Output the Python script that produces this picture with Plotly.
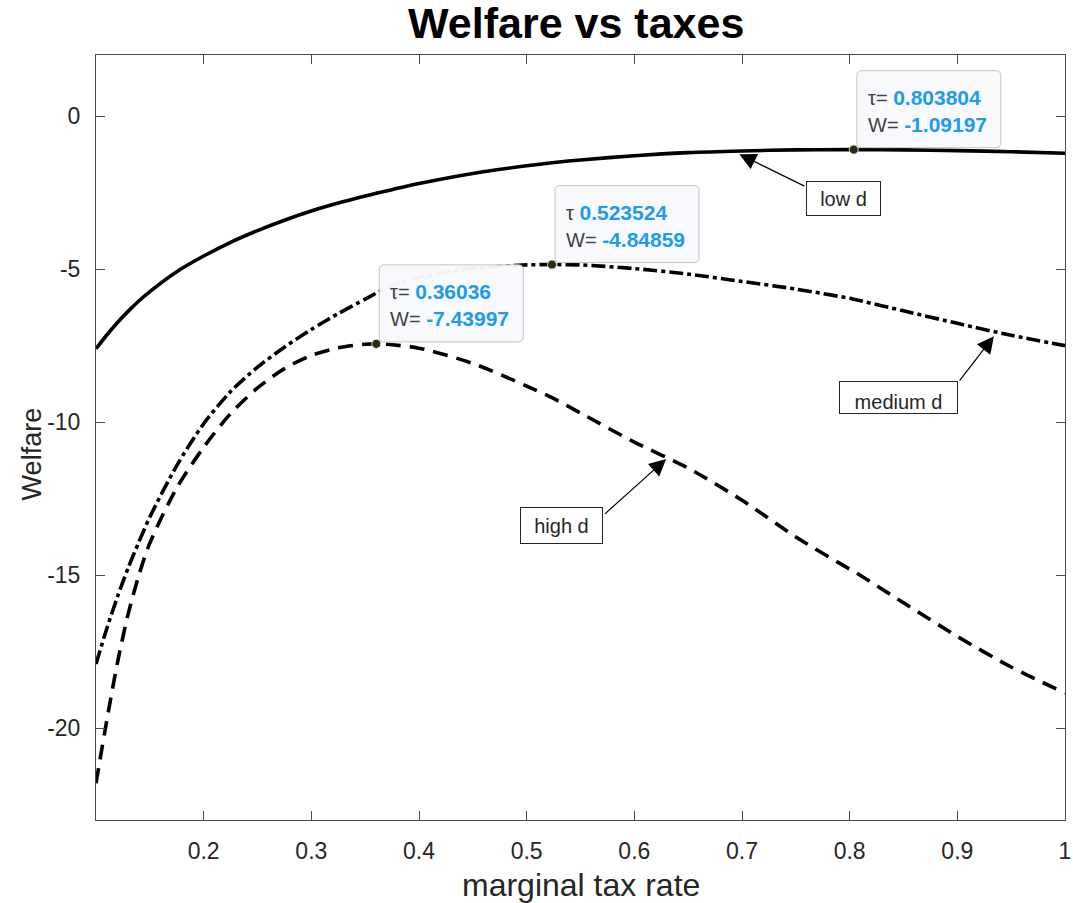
import plotly.graph_objects as go

# ---- data -----------------------------------------------------------------
tau = [0.1, 0.11, 0.12, 0.13, 0.14, 0.15, 0.175, 0.2, 0.225, 0.25, 0.275,
       0.3, 0.325, 0.35, 0.36036, 0.375, 0.4, 0.45, 0.5, 0.523524, 0.55,
       0.6, 0.65, 0.7, 0.75, 0.8, 0.803804, 0.85, 0.9, 0.95, 1.0]

welfare_low = [-7.6, -7.15, -6.74, -6.37, -6.03, -5.73, -5.08, -4.57, -4.12,
               -3.74, -3.40, -3.10, -2.84, -2.61, -2.52, -2.40, -2.20, -1.87,
               -1.62, -1.52, -1.43, -1.29, -1.19, -1.135, -1.10, -1.092,
               -1.09197, -1.10, -1.125, -1.16, -1.21]

welfare_medium = [-17.9, -16.75, -15.7, -14.75, -13.9, -13.1, -11.42, -10.05,
                  -9.0, -8.2, -7.55, -6.97, -6.45, -5.98, -5.78, -5.53,
                  -5.27, -4.98, -4.86, -4.84859, -4.86, -4.98, -5.16, -5.40,
                  -5.65, -5.95, -5.98, -6.36, -6.77, -7.16, -7.50]

welfare_high = [-21.8, -19.75, -17.85, -16.25, -14.98, -13.95, -12.15, -10.82,
                -9.72, -8.88, -8.25, -7.82, -7.57, -7.45, -7.43997, -7.47,
                -7.58, -8.08, -8.82, -9.2, -9.7, -10.65, -11.5, -12.55,
                -13.75, -14.8, -14.87, -15.9, -17.0, -18.0, -18.85]

# optimum of each curve (data tips)
peak_tau = [0.803804, 0.523524, 0.36036]
peak_w = [-1.09197, -4.84859, -7.43997]
peak_tau_label = ["τ= ", "τ ", "τ= "]

# curve labels: text, label-box centre, arrow tail, arrow tip
curve_names = ["low d", "medium d", "high d"]
label_tau = [0.7942, 0.845, 0.5327]
label_w = [-2.70, -9.20, -13.38]
tail_tau = [0.7594, 0.901, 0.5713]
tail_w = [-2.31, -8.69, -13.04]
tip_tau = [0.6975, 0.934, 0.6295]
tip_w = [-1.24, -7.19, -11.2]

x_ticks = [0.2, 0.3, 0.4, 0.5, 0.6, 0.7, 0.8, 0.9, 1.0]
x_ticktext = ["0.2", "0.3", "0.4", "0.5", "0.6", "0.7", "0.8", "0.9", "1"]
y_ticks = [0, -5, -10, -15, -20]
y_ticktext = ["0", "-5", "-10", "-15", "-20"]

# ---- styling ----------------------------------------------------------------
FONT = "Liberation Sans, Arial, Helvetica, sans-serif"
INK = "#262626"
AXIS = "#4d4d4d"
TIP_BLUE = "#1d9bf0"

fig = go.Figure()

fig.add_trace(go.Scatter(x=tau, y=welfare_low, mode="lines", name="low d",
                         line=dict(color="black", width=3.6, shape="spline",
                                   smoothing=0.8)))
fig.add_trace(go.Scatter(x=tau, y=welfare_medium, mode="lines", name="medium d",
                         line=dict(color="black", width=3.6, shape="spline",
                                   smoothing=0.8, dash="14px,4px,4px,4px")))
fig.add_trace(go.Scatter(x=tau, y=welfare_high, mode="lines", name="high d",
                         line=dict(color="black", width=3.6, shape="spline",
                                   smoothing=0.8, dash="15px,9px")))


def rounded_box(x0, y0, w, h, r):
    x1, y1 = x0 + w, y0 + h
    return (f"M{x0 + r},{y0} L{x1 - r},{y0} Q{x1},{y0} {x1},{y0 + r} "
            f"L{x1},{y1 - r} Q{x1},{y1} {x1 - r},{y1} L{x0 + r},{y1} "
            f"Q{x0},{y1} {x0},{y1 - r} L{x0},{y0 + r} Q{x0},{y0} {x0 + r},{y0} Z")


# data-tip boxes, anchored at each optimum
for t, w, lab in zip(peak_tau, peak_w, peak_tau_label):
    fig.add_shape(type="path", xref="x", yref="y", xsizemode="pixel",
                  ysizemode="pixel", xanchor=t, yanchor=w,
                  path=rounded_box(3, 2, 144, 77, 5),
                  fillcolor="rgba(248,249,252,0.97)",
                  line=dict(color="#c4c4c4", width=1), layer="above")
    txt = (f"<span style='color:#404040;font-size:20px'>{lab}</span>"
           f"<span style='color:{TIP_BLUE}'><b>{t:g}</b></span><br>"
           f"<span style='color:#404040;font-size:20px'>W= </span>"
           f"<span style='color:{TIP_BLUE}'><b>{w:g}</b></span>")
    fig.add_annotation(x=t, y=w, xref="x", yref="y", text=txt,
                       showarrow=False, xanchor="left", yanchor="bottom",
                       xshift=13, yshift=13, align="left",
                       font=dict(family=FONT, size=21), borderpad=0)

# optimum markers
fig.add_trace(go.Scatter(x=peak_tau, y=peak_w, mode="markers",
                         marker=dict(color="#2a2a1c", size=9,
                                     line=dict(color="#d6d6a8", width=1)),
                         showlegend=False))

# curve labels with arrows
box_sizes = [(75, 35), (119, 33), (83, 37)]
for name, lt, lw, at, aw, tt, tw, (bw, bh) in zip(
        curve_names, label_tau, label_w, tail_tau, tail_w, tip_tau, tip_w,
        box_sizes):
    fig.add_annotation(x=tt, y=tw, xref="x", yref="y", ax=at, ay=aw,
                       axref="x", ayref="y", text="", showarrow=True,
                       arrowhead=2, arrowsize=2.8, arrowwidth=1.2,
                       arrowcolor="black", standoff=0, startstandoff=0)
    fig.add_annotation(x=lt, y=lw, xref="x", yref="y", text=name,
                       showarrow=False, xanchor="center", yanchor="middle",
                       width=bw - 2, height=bh - 2, borderpad=0,
                       bgcolor="white", bordercolor=INK, borderwidth=1,
                       valign="bottom" if name == "medium d" else "middle",
                       font=dict(family=FONT, size=20, color=INK))

# axis titles
fig.add_annotation(x=0.5, y=-0.085, xref="paper", yref="paper",
                   text="marginal tax rate", showarrow=False,
                   xanchor="center", yanchor="middle",
                   font=dict(family=FONT, size=32, color=INK))
fig.add_annotation(x=-0.066, y=0.478, xref="paper", yref="paper",
                   text="Welfare", showarrow=False, textangle=-90,
                   xanchor="center", yanchor="middle",
                   font=dict(family=FONT, size=27, color=INK))

axis_common = dict(showgrid=False, zeroline=False, showline=True,
                   linecolor=AXIS, linewidth=1, mirror="ticks",
                   ticks="inside", ticklen=9, tickwidth=1, tickcolor=AXIS,
                   automargin=False,
                   tickfont=dict(family=FONT, size=23, color=INK))

fig.update_xaxes(range=[0.1, 1.0], tickvals=x_ticks, ticktext=x_ticktext,
                 ticklabelstandoff=10, **axis_common)
fig.update_yaxes(range=[-23, 2], tickvals=y_ticks, ticktext=y_ticktext,
                 ticklabelstandoff=10, **axis_common)

fig.update_layout(
    width=1073, height=903,
    margin=dict(l=96, r=8, t=55, b=83, autoexpand=False),
    paper_bgcolor="white", plot_bgcolor="white",
    showlegend=False,
    title=dict(text="<b>Welfare vs taxes</b>", x=0.537, xanchor="center",
               y=1 - 23 / 903, yanchor="middle", yref="container",
               font=dict(family=FONT, size=43, color="black")),
)

fig.write_html("out.html")
